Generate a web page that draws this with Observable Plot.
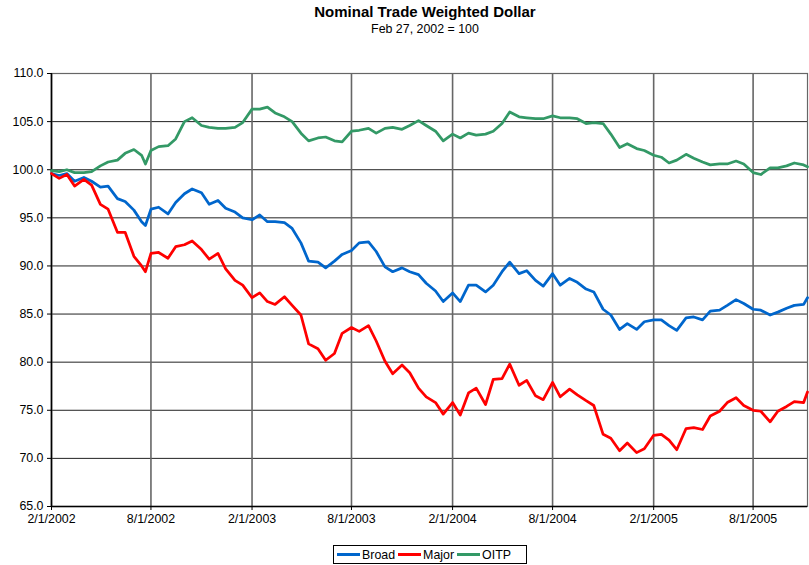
<!DOCTYPE html>
<html>
<head>
<meta charset="utf-8">
<script src="https://cdn.jsdelivr.net/npm/d3@7"></script>
<script src="https://cdn.jsdelivr.net/npm/@observablehq/plot@0.6"></script>
<style>
  html, body { margin: 0; padding: 0; background: #fff; overflow: hidden; }
  #wrap { position: relative; width: 809px; height: 565px; font-family: "Liberation Sans", Arial, sans-serif; color: #000; }
  #hdr { position: relative; width: 809px; height: 40px; }
  #title { position: absolute; left: 0; width: 850px; top: 4px; text-align: center; font-weight: bold; font-size: 15px; line-height: 16px; }
  #sub { position: absolute; left: 0; width: 850px; top: 23px; text-align: center; font-size: 12.4px; line-height: 13px; }
  #chart svg { display: block; }
  #legend { position: absolute; left: 333px; top: 545px; width: 192px; height: 17px; border: 1px solid #000; display: flex; align-items: center; font-size: 12.4px; box-sizing: content-box; }
  #legend .it { display: flex; align-items: center; margin-left: 3px; }
  #legend .sw { width: 23px; height: 3px; margin-right: 2px; }
</style>
</head>
<body>
<div id="wrap">
  <div id="hdr">
    <div id="title">Nominal Trade Weighted Dollar</div>
    <div id="sub">Feb 27, 2002 = 100</div>
  </div>
  <div id="chart"></div>
  <div id="legend"></div>
</div>
<script>
// ---- data ----
const seriesNames = ["Broad", "Major", "OITP"];
const seriesColors = ["#0066CC", "#FF0000", "#339966"];

const dates = [
  "2002-02-01","2002-02-15","2002-03-01","2002-03-15","2002-04-01","2002-04-15","2002-05-01","2002-05-15",
  "2002-06-01","2002-06-15","2002-07-01","2002-07-15","2002-07-22","2002-08-01","2002-08-15","2002-09-01",
  "2002-09-15","2002-10-01","2002-10-15","2002-11-01","2002-11-15","2002-12-01","2002-12-15","2003-01-01",
  "2003-01-15","2003-02-01","2003-02-15","2003-03-01","2003-03-15","2003-04-01","2003-04-15","2003-05-01",
  "2003-05-15","2003-06-01","2003-06-15","2003-07-01","2003-07-15","2003-08-01","2003-08-15","2003-09-01",
  "2003-09-15","2003-10-01","2003-10-15","2003-11-01","2003-11-15","2003-12-01","2003-12-15","2004-01-01",
  "2004-01-15","2004-02-01","2004-02-15","2004-03-01","2004-03-15","2004-04-01","2004-04-15","2004-05-01",
  "2004-05-15","2004-06-01","2004-06-15","2004-07-01","2004-07-15","2004-08-01","2004-08-15","2004-09-01",
  "2004-09-15","2004-10-01","2004-10-15","2004-11-01","2004-11-15","2004-12-01","2004-12-15","2005-01-01",
  "2005-01-15","2005-02-01","2005-02-15","2005-03-01","2005-03-15","2005-04-01","2005-04-15","2005-05-01",
  "2005-05-15","2005-06-01","2005-06-15","2005-07-01","2005-07-15","2005-08-01","2005-08-15","2005-09-01",
  "2005-09-15","2005-10-01","2005-10-15","2005-11-01","2005-11-08"
];

const broad = [
  99.6, 99.4, 99.6, 98.8, 99.2, 98.8, 98.2, 98.3,
  97.0, 96.7, 95.8, 94.6, 94.2, 95.9, 96.1, 95.4,
  96.6, 97.5, 98.0, 97.6, 96.4, 96.8, 96.0, 95.6,
  95.0, 94.8, 95.3, 94.6, 94.6, 94.5, 93.9, 92.4,
  90.5, 90.4, 89.8, 90.5, 91.2, 91.6, 92.4, 92.5,
  91.5, 89.9, 89.4, 89.8, 89.4, 89.1, 88.2, 87.4,
  86.3, 87.2, 86.3, 88.0, 88.0, 87.3, 88.0, 89.4,
  90.4, 89.2, 89.5, 88.5, 87.9, 89.2, 88.0, 88.7,
  88.3, 87.6, 87.3, 85.5, 84.9, 83.4, 84.0, 83.4,
  84.2, 84.4, 84.4, 83.8, 83.3, 84.6, 84.7, 84.4,
  85.3, 85.4, 85.9, 86.5, 86.1, 85.5, 85.4, 84.9,
  85.2, 85.6, 85.9, 86.0, 86.7
];

const major = [
  99.6, 99.1, 99.5, 98.3, 99.0, 98.4, 96.4, 95.9,
  93.5, 93.5, 91.0, 90.0, 89.4, 91.3, 91.4, 90.8,
  92.0, 92.2, 92.6, 91.7, 90.7, 91.3, 89.7, 88.5,
  88.0, 86.7, 87.2, 86.3, 86.0, 86.8, 85.9, 84.9,
  81.9, 81.4, 80.2, 80.9, 83.0, 83.6, 83.2, 83.8,
  82.2, 80.1, 78.8, 79.7, 78.9, 77.3, 76.4, 75.8,
  74.6, 75.8, 74.5, 76.8, 77.3, 75.6, 78.2, 78.3,
  79.8, 77.6, 78.1, 76.5, 76.1, 77.9, 76.4, 77.2,
  76.6, 76.0, 75.5, 72.5, 72.1, 70.8, 71.6, 70.6,
  71.0, 72.4, 72.5, 71.9, 70.9, 73.1, 73.2, 73.0,
  74.4, 74.9, 75.8, 76.3, 75.5, 75.0, 74.9, 73.8,
  74.9, 75.4, 75.9, 75.8, 76.9
];

const oitp = [
  99.9, 99.8, 100.0, 99.7, 99.7, 99.8, 100.4, 100.8,
  101.0, 101.7, 102.1, 101.5, 100.6, 102.0, 102.4, 102.5,
  103.2, 105.0, 105.4, 104.6, 104.4, 104.3, 104.3, 104.4,
  104.9, 106.3, 106.3, 106.5, 105.9, 105.5, 105.0, 103.8,
  103.0, 103.3, 103.4, 103.0, 102.9, 104.0, 104.1, 104.3,
  103.8, 104.3, 104.4, 104.2, 104.6, 105.1, 104.6, 104.0,
  103.0, 103.7, 103.3, 103.8, 103.6, 103.7, 104.0, 104.8,
  106.0, 105.5, 105.4, 105.3, 105.3, 105.6, 105.4, 105.4,
  105.3, 104.8, 104.9, 104.8, 103.7, 102.3, 102.7, 102.2,
  102.0, 101.5, 101.3, 100.7, 101.0, 101.6, 101.2, 100.8,
  100.5, 100.6, 100.6, 100.9, 100.6, 99.7, 99.5, 100.2,
  100.2, 100.4, 100.7, 100.5, 100.3
];

const xTickLabels = ["2/1/2002","8/1/2002","2/1/2003","8/1/2003","2/1/2004","8/1/2004","2/1/2005","8/1/2005"];
const yTicks = [65, 70, 75, 80, 85, 90, 95, 100, 105, 110];
const xDomain = ["2002-02-01", "2005-11-08"];

// ---- build ----
const parseMDY = s => { const [m, d, y] = s.split("/").map(Number); return new Date(Date.UTC(y, m - 1, d)); };
const xTicks = xTickLabels.map(parseMDY);
const fmt = d => `${d.getUTCMonth() + 1}/${d.getUTCDate()}/${d.getUTCFullYear()}`;
const seriesValues = [broad, major, oitp];
const rows = [];
seriesNames.forEach((name, s) => {
  dates.forEach((d, i) => rows.push({ series: name, date: new Date(d), value: seriesValues[s][i] }));
});
const xmin = new Date(xDomain[0]);

const chart = Plot.plot({
  width: 809,
  height: 496,
  marginTop: 33,
  marginBottom: 30,
  marginLeft: 51,
  marginRight: 2,
  style: { fontFamily: "'Liberation Sans', Arial, sans-serif", fontSize: "12.4px", color: "#000", background: "#fff", overflow: "visible" },
  x: { type: "utc", domain: xDomain.map(d => new Date(d)), label: null },
  y: { domain: [65, 110], label: null },
  color: { domain: seriesNames, range: seriesColors },
  marks: [
    Plot.gridY(yTicks, { stroke: "#222", strokeOpacity: 1, strokeWidth: 1 }),
    Plot.gridX(xTicks, { stroke: "#666", strokeOpacity: 1, strokeWidth: 1.6 }),
    Plot.frame({ stroke: "#666", strokeWidth: 1.2 }),
    Plot.ruleX([xmin], { stroke: "#000", strokeWidth: 1.4 }),
    Plot.ruleY([65], { stroke: "#000", strokeWidth: 1.4 }),
    Plot.axisY(yTicks, { tickFormat: d => d.toFixed(1), tickSize: 4, tickPadding: 4, label: null, fill: "#000", stroke: "#000" }),
    Plot.axisX(xTicks, { tickFormat: fmt, tickSize: 4, tickPadding: 4, label: null, fill: "#000", stroke: "#000" }),
    Plot.line(rows, { x: "date", y: "value", z: "series", stroke: "series", strokeWidth: 2.75, strokeLinejoin: "round" })
  ]
});
document.getElementById("chart").appendChild(chart);

// legend with line swatches
const leg = document.getElementById("legend");
seriesNames.forEach((name, i) => {
  const it = document.createElement("div");
  it.className = "it";
  const sw = document.createElement("div");
  sw.className = "sw";
  sw.style.background = seriesColors[i];
  const t = document.createElement("span");
  t.textContent = name;
  it.appendChild(sw);
  it.appendChild(t);
  leg.appendChild(it);
});
</script>
</body>
</html>
